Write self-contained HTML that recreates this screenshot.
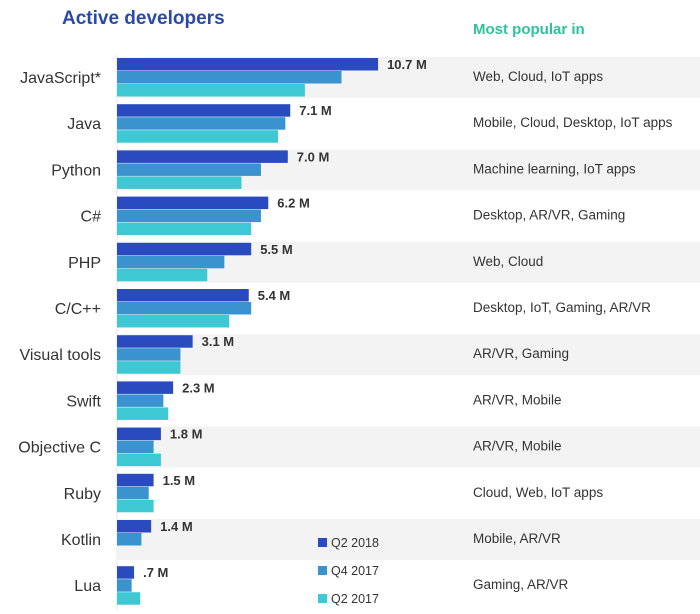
<!DOCTYPE html>
<html><head><meta charset="utf-8"><style>
body{margin:0;background:#fff;font-family:"Liberation Sans",sans-serif;}
svg{display:block}
</style></head><body>
<svg id="c" width="700" height="614">
<text x="62" y="24" font-size="19" font-weight="bold" fill="#2b4aa8">Active developers</text>
<text x="473" y="34" font-size="15" font-weight="bold" fill="#2ec29c">Most popular in</text>
<line x1="117" y1="55" x2="117" y2="610" stroke="#e4e4e4"/>
<g id="rows"></g>
</svg>
<script>
const categories=["JavaScript*","Java","Python","C#","PHP","C/C++","Visual tools","Swift","Objective C","Ruby","Kotlin","Lua"];
const q2018=[10.7,7.1,7.0,6.2,5.5,5.4,3.1,2.3,1.8,1.5,1.4,0.7];
const q42017=[9.2,6.9,5.9,5.9,4.4,5.5,2.6,1.9,1.5,1.3,1.0,0.6];
const q22017=[7.7,6.6,5.1,5.5,3.7,4.6,2.6,2.1,1.8,1.5,0,0.95];
const valueLabels=["10.7 M","7.1 M","7.0 M","6.2 M","5.5 M","5.4 M","3.1 M","2.3 M","1.8 M","1.5 M","1.4 M",".7 M"];
const popular=["Web, Cloud, IoT apps","Mobile, Cloud, Desktop, IoT apps","Machine learning, IoT apps","Desktop, AR/VR, Gaming","Web, Cloud","Desktop, IoT, Gaming, AR/VR","AR/VR, Gaming","AR/VR, Mobile","AR/VR, Mobile","Cloud, Web, IoT apps","Mobile, AR/VR","Gaming, AR/VR"];
const seriesNames=["Q2 2018","Q4 2017","Q2 2017"];
const colors=["#2a4bbf","#3a93cf","#3ec8d4"];
const x0=117,pxPerM=24.4,rowTop=58,rowPitch=46.2,barH=13;
const xs=v=>x0+v*pxPerM;
const ys=i=>rowTop+i*rowPitch;
const NS="http://www.w3.org/2000/svg";
const g=document.getElementById('rows');
function mk(tag,attrs,txt){const e=document.createElementNS(NS,tag);for(const k in attrs)e.setAttribute(k,attrs[k]);if(txt!==undefined)e.textContent=txt;g.appendChild(e);return e;}
const series=[q2018,q42017,q22017];
categories.forEach((c,i)=>{
  const y=ys(i);
  if(i%2===0){const b=mk('rect',{x:x0,y:y-1,width:700-x0,height:41,fill:'#f3f3f3'});
    
    }
  const l=mk('text',{x:101,y:y+25,'font-size':16,'text-anchor':'end',fill:'#333'},c);
  
  
  series.forEach((s,k)=>{
    if(s[i]<=0)return;
    const r=mk('rect',{x:x0,y:y+k*barH,width:xs(s[i])-x0,height:barH-0.5,fill:colors[k]});
    
    
  });
  const v=mk('text',{x:xs(q2018[i])+9,y:y+11,'font-size':13,'font-weight':'bold',fill:'#333'},valueLabels[i]);
  
  
  const p=mk('text',{x:473,y:y+23,'font-size':13.5,fill:'#333'},popular[i]);
  
  
});
seriesNames.forEach((n,k)=>{
  const y=547+k*28;
  const s=mk('rect',{x:318,y:y-9,width:9,height:9,fill:colors[k]});
  
  
  const t=mk('text',{x:331,y:y,'font-size':12.5,fill:'#333'},n);
  
  
});
</script>
</body></html>
